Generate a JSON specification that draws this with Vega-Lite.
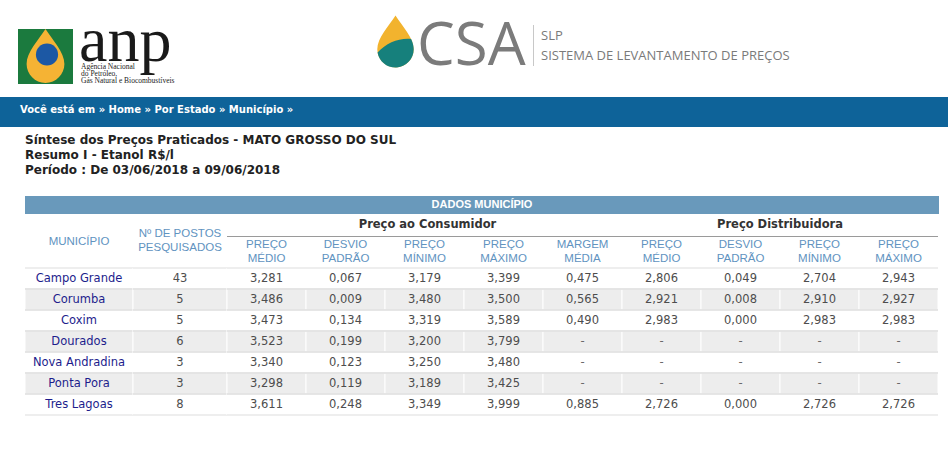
{
  "$schema": "https://vega.github.io/schema/vega-lite/v6.json",
  "width": 948,
  "height": 469,
  "autosize": {"type": "none"},
  "padding": 0,
  "background": "#ffffff",
  "config": {
    "view": {"stroke": null},
    "locale": {"number": {"decimal": ",", "thousands": ".", "grouping": [3], "currency": ["R$", ""]}}
  },
  "datasets": {
    "precos": [
      {"municipio": "Campo Grande", "postos": 43, "medio_c": 3.281, "desvio_c": 0.067, "min_c": 3.179, "max_c": 3.399, "margem": 0.475, "medio_d": 2.806, "desvio_d": 0.049, "min_d": 2.704, "max_d": 2.943},
      {"municipio": "Corumba", "postos": 5, "medio_c": 3.486, "desvio_c": 0.009, "min_c": 3.480, "max_c": 3.500, "margem": 0.565, "medio_d": 2.921, "desvio_d": 0.008, "min_d": 2.910, "max_d": 2.927},
      {"municipio": "Coxim", "postos": 5, "medio_c": 3.473, "desvio_c": 0.134, "min_c": 3.319, "max_c": 3.589, "margem": 0.490, "medio_d": 2.983, "desvio_d": 0.000, "min_d": 2.983, "max_d": 2.983},
      {"municipio": "Dourados", "postos": 6, "medio_c": 3.523, "desvio_c": 0.199, "min_c": 3.200, "max_c": 3.799, "margem": null, "medio_d": null, "desvio_d": null, "min_d": null, "max_d": null},
      {"municipio": "Nova Andradina", "postos": 3, "medio_c": 3.340, "desvio_c": 0.123, "min_c": 3.250, "max_c": 3.480, "margem": null, "medio_d": null, "desvio_d": null, "min_d": null, "max_d": null},
      {"municipio": "Ponta Pora", "postos": 3, "medio_c": 3.298, "desvio_c": 0.119, "min_c": 3.189, "max_c": 3.425, "margem": null, "medio_d": null, "desvio_d": null, "min_d": null, "max_d": null},
      {"municipio": "Tres Lagoas", "postos": 8, "medio_c": 3.611, "desvio_c": 0.248, "min_c": 3.349, "max_c": 3.999, "margem": 0.885, "medio_d": 2.726, "desvio_d": 0.000, "min_d": 2.726, "max_d": 2.726}
    ],
    "cabecalhos": [
      {"coluna": "medio_c", "titulo": "PREÇO\nMÉDIO"},
      {"coluna": "desvio_c", "titulo": "DESVIO\nPADRÃO"},
      {"coluna": "min_c", "titulo": "PREÇO\nMÍNIMO"},
      {"coluna": "max_c", "titulo": "PREÇO\nMÁXIMO"},
      {"coluna": "margem", "titulo": "MARGEM\nMÉDIA"},
      {"coluna": "medio_d", "titulo": "PREÇO\nMÉDIO"},
      {"coluna": "desvio_d", "titulo": "DESVIO\nPADRÃO"},
      {"coluna": "min_d", "titulo": "PREÇO\nMÍNIMO"},
      {"coluna": "max_d", "titulo": "PREÇO\nMÁXIMO"}
    ]
  },
  "resolve": {"scale": {"x": "independent"}},
  "layer": [
    {
      "data": {"values": [{}]},
      "layer": [
        {"mark": {"type": "rect", "color": "#1b7a3e"}, "encoding": {"x": {"value": 18}, "x2": {"value": 73}, "y": {"value": 29}, "y2": {"value": 84}}},
        {"mark": {"type": "point", "filled": true, "opacity": 1, "strokeWidth": 0, "color": "#f5b334", "size": 2916, "shape": "M0,-1 C0.25,-0.6 0.7,-0.15 0.7,0.3 A0.7,0.7 0 1 1 -0.7,0.3 C-0.7,-0.15 -0.25,-0.6 0,-1 Z"}, "encoding": {"x": {"value": 45.5}, "y": {"value": 56}}},
        {"mark": {"type": "point", "filled": true, "opacity": 1, "strokeWidth": 0, "color": "#1c58a4", "size": 491, "shape": "circle"}, "encoding": {"x": {"value": 47}, "y": {"value": 54.5}}},
        {"mark": {"type": "text", "font": "Liberation Serif", "fontSize": 64, "color": "#1a1a1a", "align": "left", "baseline": "alphabetic"}, "encoding": {"x": {"value": 79}, "y": {"value": 61}, "text": {"value": "anp"}}},
        {"mark": {"type": "text", "font": "Liberation Serif", "fontSize": 7.5, "lineHeight": 7.3, "lineBreak": "\n", "color": "#222222", "align": "left", "baseline": "middle"}, "encoding": {"x": {"value": 81}, "y": {"value": 66.5}, "text": {"value": "Agência Nacional\ndo Petróleo,\nGás Natural e Biocombustíveis"}}},
        {"mark": {"type": "point", "filled": true, "opacity": 1, "strokeWidth": 0, "color": "#f2b32e", "size": 2704, "shape": "M0,-1 C0.25,-0.6 0.7,-0.15 0.7,0.3 A0.7,0.7 0 1 1 -0.7,0.3 C-0.7,-0.15 -0.25,-0.6 0,-1 Z"}, "encoding": {"x": {"value": 395.5}, "y": {"value": 41.5}}},
        {"mark": {"type": "point", "filled": true, "opacity": 1, "strokeWidth": 0, "color": "#16807c", "size": 2704, "shape": "M-0.69,0.42 C-0.35,0.05 0.15,-0.15 0.6,-0.1 C0.67,0.05 0.7,0.18 0.7,0.3 A0.7,0.7 0 0 1 -0.69,0.42 Z"}, "encoding": {"x": {"value": 395.5}, "y": {"value": 41.5}}},
        {"mark": {"type": "text", "font": "Open Sans", "fontSize": 60, "color": "#7b7b7b", "align": "left", "baseline": "alphabetic"}, "encoding": {"x": {"value": 417}, "y": {"value": 65}, "text": {"value": "CSA"}}},
        {"mark": {"type": "rule", "color": "#c8c8c8", "strokeWidth": 1}, "encoding": {"x": {"value": 533.5}, "y": {"value": 25}, "y2": {"value": 66}}},
        {"mark": {"type": "text", "font": "Open Sans", "fontSize": 13, "color": "#7a7a7a", "align": "left", "baseline": "middle"}, "encoding": {"x": {"value": 541}, "y": {"value": 35.5}, "text": {"value": "SLP"}}},
        {"mark": {"type": "text", "font": "Open Sans", "fontSize": 13, "color": "#7a7a7a", "align": "left", "baseline": "middle"}, "encoding": {"x": {"value": 541}, "y": {"value": 55.5}, "text": {"value": "SISTEMA DE LEVANTAMENTO DE PREÇOS"}}},
        {"mark": {"type": "rect", "color": "#0e6399"}, "encoding": {"x": {"value": 0}, "x2": {"value": 948}, "y": {"value": 97}, "y2": {"value": 127}}},
        {"mark": {"type": "text", "font": "DejaVu Sans", "fontSize": 10, "fontWeight": "bold", "color": "#ffffff", "align": "left", "baseline": "middle"}, "encoding": {"x": {"value": 20}, "y": {"value": 110}, "text": {"value": "Você está em » Home » Por Estado » Município »"}}},
        {"mark": {"type": "text", "font": "DejaVu Sans", "fontSize": 12, "fontWeight": "bold", "lineHeight": 15, "lineBreak": "\n", "color": "#222222", "align": "left", "baseline": "middle"}, "encoding": {"x": {"value": 25}, "y": {"value": 140}, "text": {"value": "Síntese dos Preços Praticados - MATO GROSSO DO SUL\nResumo I - Etanol R$/l\nPeríodo : De 03/06/2018 a 09/06/2018"}}},
        {"mark": {"type": "rect", "color": "#6999bb"}, "encoding": {"x": {"value": 25}, "x2": {"value": 939}, "y": {"value": 196}, "y2": {"value": 214}}},
        {"mark": {"type": "text", "font": "Liberation Sans", "fontSize": 11, "fontWeight": "bold", "color": "#ffffff", "align": "center", "baseline": "middle"}, "encoding": {"x": {"value": 482}, "y": {"value": 205}, "text": {"value": "DADOS MUNICÍPIO"}}}
      ]
    },
    {
      "layer": [
        {
          "data": {"name": "precos"},
          "transform": [{"window": [{"op": "row_number", "as": "ordem"}]}],
          "encoding": {
            "x": {"datum": "MUNICÍPIO", "type": "nominal", "axis": null, "scale": {"domain": ["MUNICÍPIO"], "range": [25, 133], "paddingInner": 0, "paddingOuter": 0}},
            "y": {"field": "municipio", "type": "nominal", "axis": null, "scale": {"domain": ["Campo Grande", "Corumba", "Coxim", "Dourados", "Nova Andradina", "Ponta Pora", "Tres Lagoas"], "range": [268, 415], "paddingInner": 0, "paddingOuter": 0}}
          },
          "layer": [
            {"mark": {"type": "rect", "stroke": "#ffffff", "strokeWidth": 1}, "encoding": {"fill": {"condition": {"test": "datum.ordem % 2 == 0", "value": "#ededed"}, "value": "#ffffff"}}},
            {"mark": {"type": "rule", "color": "#dddddd"}, "encoding": {"x": {"datum": "MUNICÍPIO", "type": "nominal", "bandPosition": 0, "axis": null, "scale": {"domain": ["MUNICÍPIO"], "range": [25, 133], "paddingInner": 0, "paddingOuter": 0}}, "x2": {"datum": "MUNICÍPIO", "bandPosition": 1}, "y": {"field": "municipio", "type": "nominal", "bandPosition": 1, "axis": null, "scale": {"domain": ["Campo Grande", "Corumba", "Coxim", "Dourados", "Nova Andradina", "Ponta Pora", "Tres Lagoas"], "range": [268, 415], "paddingInner": 0, "paddingOuter": 0}}}},
            {"mark": {"type": "rule", "color": "#dddddd"}, "encoding": {"x": {"datum": "MUNICÍPIO", "type": "nominal", "bandPosition": 0, "axis": null, "scale": {"domain": ["MUNICÍPIO"], "range": [25, 133], "paddingInner": 0, "paddingOuter": 0}}, "x2": {"datum": "MUNICÍPIO", "bandPosition": 1}, "y": {"field": "municipio", "type": "nominal", "bandPosition": 0, "axis": null, "scale": {"domain": ["Campo Grande", "Corumba", "Coxim", "Dourados", "Nova Andradina", "Ponta Pora", "Tres Lagoas"], "range": [268, 415], "paddingInner": 0, "paddingOuter": 0}}}},
            {"mark": {"type": "text", "font": "DejaVu Sans", "fontSize": 11.5, "color": "#1d1d8c", "align": "center", "baseline": "middle"}, "encoding": {"text": {"field": "municipio", "type": "nominal"}}}
          ]
        },
        {
          "data": {"values": [{}]},
          "mark": {"type": "text", "font": "Liberation Sans", "fontSize": 11.5, "color": "#6193bf", "align": "center", "baseline": "middle"},
          "encoding": {
            "x": {"datum": "MUNICÍPIO", "type": "nominal", "axis": null, "scale": {"domain": ["MUNICÍPIO"], "range": [25, 133], "paddingInner": 0, "paddingOuter": 0}},
            "y": {"value": 242},
            "text": {"value": "MUNICÍPIO"}
          }
        }
      ]
    },
    {
      "layer": [
        {
          "data": {"name": "precos"},
          "transform": [{"window": [{"op": "row_number", "as": "ordem"}]}],
          "encoding": {
            "x": {"datum": "POSTOS", "type": "nominal", "axis": null, "scale": {"domain": ["POSTOS"], "range": [133, 227], "paddingInner": 0, "paddingOuter": 0}},
            "y": {"field": "municipio", "type": "nominal", "axis": null, "scale": {"domain": ["Campo Grande", "Corumba", "Coxim", "Dourados", "Nova Andradina", "Ponta Pora", "Tres Lagoas"], "range": [268, 415], "paddingInner": 0, "paddingOuter": 0}}
          },
          "layer": [
            {"mark": {"type": "rect", "stroke": "#ffffff", "strokeWidth": 1}, "encoding": {"fill": {"condition": {"test": "datum.ordem % 2 == 0", "value": "#ededed"}, "value": "#ffffff"}}},
            {"mark": {"type": "rule", "color": "#dddddd"}, "encoding": {"x": {"datum": "POSTOS", "type": "nominal", "bandPosition": 0, "axis": null, "scale": {"domain": ["POSTOS"], "range": [133, 227], "paddingInner": 0, "paddingOuter": 0}}, "x2": {"datum": "POSTOS", "bandPosition": 1}, "y": {"field": "municipio", "type": "nominal", "bandPosition": 1, "axis": null, "scale": {"domain": ["Campo Grande", "Corumba", "Coxim", "Dourados", "Nova Andradina", "Ponta Pora", "Tres Lagoas"], "range": [268, 415], "paddingInner": 0, "paddingOuter": 0}}}},
            {"mark": {"type": "rule", "color": "#dddddd"}, "encoding": {"x": {"datum": "POSTOS", "type": "nominal", "bandPosition": 0, "axis": null, "scale": {"domain": ["POSTOS"], "range": [133, 227], "paddingInner": 0, "paddingOuter": 0}}, "x2": {"datum": "POSTOS", "bandPosition": 1}, "y": {"field": "municipio", "type": "nominal", "bandPosition": 0, "axis": null, "scale": {"domain": ["Campo Grande", "Corumba", "Coxim", "Dourados", "Nova Andradina", "Ponta Pora", "Tres Lagoas"], "range": [268, 415], "paddingInner": 0, "paddingOuter": 0}}}},
            {"mark": {"type": "text", "font": "DejaVu Sans", "fontSize": 11.5, "color": "#4d4d4d", "align": "center", "baseline": "middle"}, "encoding": {"text": {"field": "postos", "type": "quantitative", "format": "d"}}}
          ]
        },
        {
          "data": {"values": [{}]},
          "mark": {"type": "text", "font": "Liberation Sans", "fontSize": 11.5, "lineHeight": 14, "lineBreak": "\n", "color": "#6193bf", "align": "center", "baseline": "middle"},
          "encoding": {
            "x": {"datum": "POSTOS", "type": "nominal", "axis": null, "scale": {"domain": ["POSTOS"], "range": [133, 227], "paddingInner": 0, "paddingOuter": 0}},
            "y": {"value": 234},
            "text": {"value": "Nº DE POSTOS\nPESQUISADOS"}
          }
        }
      ]
    },
    {
      "layer": [
        {
          "data": {"name": "precos"},
          "transform": [
            {"window": [{"op": "row_number", "as": "ordem"}]},
            {"fold": ["medio_c", "desvio_c", "min_c", "max_c", "margem", "medio_d", "desvio_d", "min_d", "max_d"], "as": ["coluna", "valor"]}
          ],
          "encoding": {
            "x": {"field": "coluna", "type": "nominal", "axis": null, "scale": {"domain": ["medio_c", "desvio_c", "min_c", "max_c", "margem", "medio_d", "desvio_d", "min_d", "max_d"], "range": [227, 938], "paddingInner": 0, "paddingOuter": 0}},
            "y": {"field": "municipio", "type": "nominal", "axis": null, "scale": {"domain": ["Campo Grande", "Corumba", "Coxim", "Dourados", "Nova Andradina", "Ponta Pora", "Tres Lagoas"], "range": [268, 415], "paddingInner": 0, "paddingOuter": 0}}
          },
          "layer": [
            {"mark": {"type": "rect", "stroke": "#ffffff", "strokeWidth": 1}, "encoding": {"fill": {"condition": {"test": "datum.ordem % 2 == 0", "value": "#ededed"}, "value": "#ffffff"}}},
            {"mark": {"type": "rule", "color": "#dddddd"}, "encoding": {"x": {"field": "coluna", "type": "nominal", "bandPosition": 0, "axis": null, "scale": {"domain": ["medio_c", "desvio_c", "min_c", "max_c", "margem", "medio_d", "desvio_d", "min_d", "max_d"], "range": [227, 938], "paddingInner": 0, "paddingOuter": 0}}, "x2": {"field": "coluna", "bandPosition": 1}, "y": {"field": "municipio", "type": "nominal", "bandPosition": 1, "axis": null, "scale": {"domain": ["Campo Grande", "Corumba", "Coxim", "Dourados", "Nova Andradina", "Ponta Pora", "Tres Lagoas"], "range": [268, 415], "paddingInner": 0, "paddingOuter": 0}}}},
            {"mark": {"type": "rule", "color": "#dddddd"}, "encoding": {"x": {"field": "coluna", "type": "nominal", "bandPosition": 0, "axis": null, "scale": {"domain": ["medio_c", "desvio_c", "min_c", "max_c", "margem", "medio_d", "desvio_d", "min_d", "max_d"], "range": [227, 938], "paddingInner": 0, "paddingOuter": 0}}, "x2": {"field": "coluna", "bandPosition": 1}, "y": {"field": "municipio", "type": "nominal", "bandPosition": 0, "axis": null, "scale": {"domain": ["Campo Grande", "Corumba", "Coxim", "Dourados", "Nova Andradina", "Ponta Pora", "Tres Lagoas"], "range": [268, 415], "paddingInner": 0, "paddingOuter": 0}}}},
            {"transform": [{"filter": "isValid(datum.valor)"}], "mark": {"type": "text", "font": "DejaVu Sans", "fontSize": 11.5, "color": "#4d4d4d", "align": "center", "baseline": "middle"}, "encoding": {"text": {"field": "valor", "type": "quantitative", "format": ".3f"}}},
            {"transform": [{"filter": "!isValid(datum.valor)"}], "mark": {"type": "text", "font": "DejaVu Sans", "fontSize": 11.5, "color": "#6a6a6a", "align": "center", "baseline": "middle"}, "encoding": {"text": {"value": "-"}}}
          ]
        },
        {
          "data": {"name": "cabecalhos"},
          "mark": {"type": "text", "font": "Liberation Sans", "fontSize": 11.5, "lineHeight": 13.5, "lineBreak": "\n", "color": "#6193bf", "align": "center", "baseline": "middle"},
          "encoding": {
            "x": {"field": "coluna", "type": "nominal", "axis": null, "scale": {"domain": ["medio_c", "desvio_c", "min_c", "max_c", "margem", "medio_d", "desvio_d", "min_d", "max_d"], "range": [227, 938], "paddingInner": 0, "paddingOuter": 0}},
            "y": {"value": 245},
            "text": {"field": "titulo", "type": "nominal"}
          }
        },
        {
          "data": {"values": [{}]},
          "layer": [
            {"mark": {"type": "rule", "color": "#9a9a9a", "strokeWidth": 1}, "encoding": {"x": {"datum": "medio_c", "type": "nominal", "bandPosition": 0, "axis": null, "scale": {"domain": ["medio_c", "desvio_c", "min_c", "max_c", "margem", "medio_d", "desvio_d", "min_d", "max_d"], "range": [227, 938], "paddingInner": 0, "paddingOuter": 0}}, "x2": {"datum": "max_d", "bandPosition": 1}, "y": {"value": 236.5}}},
            {"mark": {"type": "text", "font": "DejaVu Sans", "fontSize": 11.5, "fontWeight": "bold", "color": "#333333", "align": "center", "baseline": "middle", "xOffset": 3}, "encoding": {"x": {"datum": "min_c", "type": "nominal", "axis": null, "scale": {"domain": ["medio_c", "desvio_c", "min_c", "max_c", "margem", "medio_d", "desvio_d", "min_d", "max_d"], "range": [227, 938], "paddingInner": 0, "paddingOuter": 0}}, "y": {"value": 225}, "text": {"value": "Preço ao Consumidor"}}},
            {"mark": {"type": "text", "font": "DejaVu Sans", "fontSize": 11.5, "fontWeight": "bold", "color": "#333333", "align": "center", "baseline": "middle"}, "encoding": {"x": {"datum": "desvio_d", "type": "nominal", "bandPosition": 1, "axis": null, "scale": {"domain": ["medio_c", "desvio_c", "min_c", "max_c", "margem", "medio_d", "desvio_d", "min_d", "max_d"], "range": [227, 938], "paddingInner": 0, "paddingOuter": 0}}, "y": {"value": 225}, "text": {"value": "Preço Distribuidora"}}}
          ]
        }
      ]
    }
  ]
}
